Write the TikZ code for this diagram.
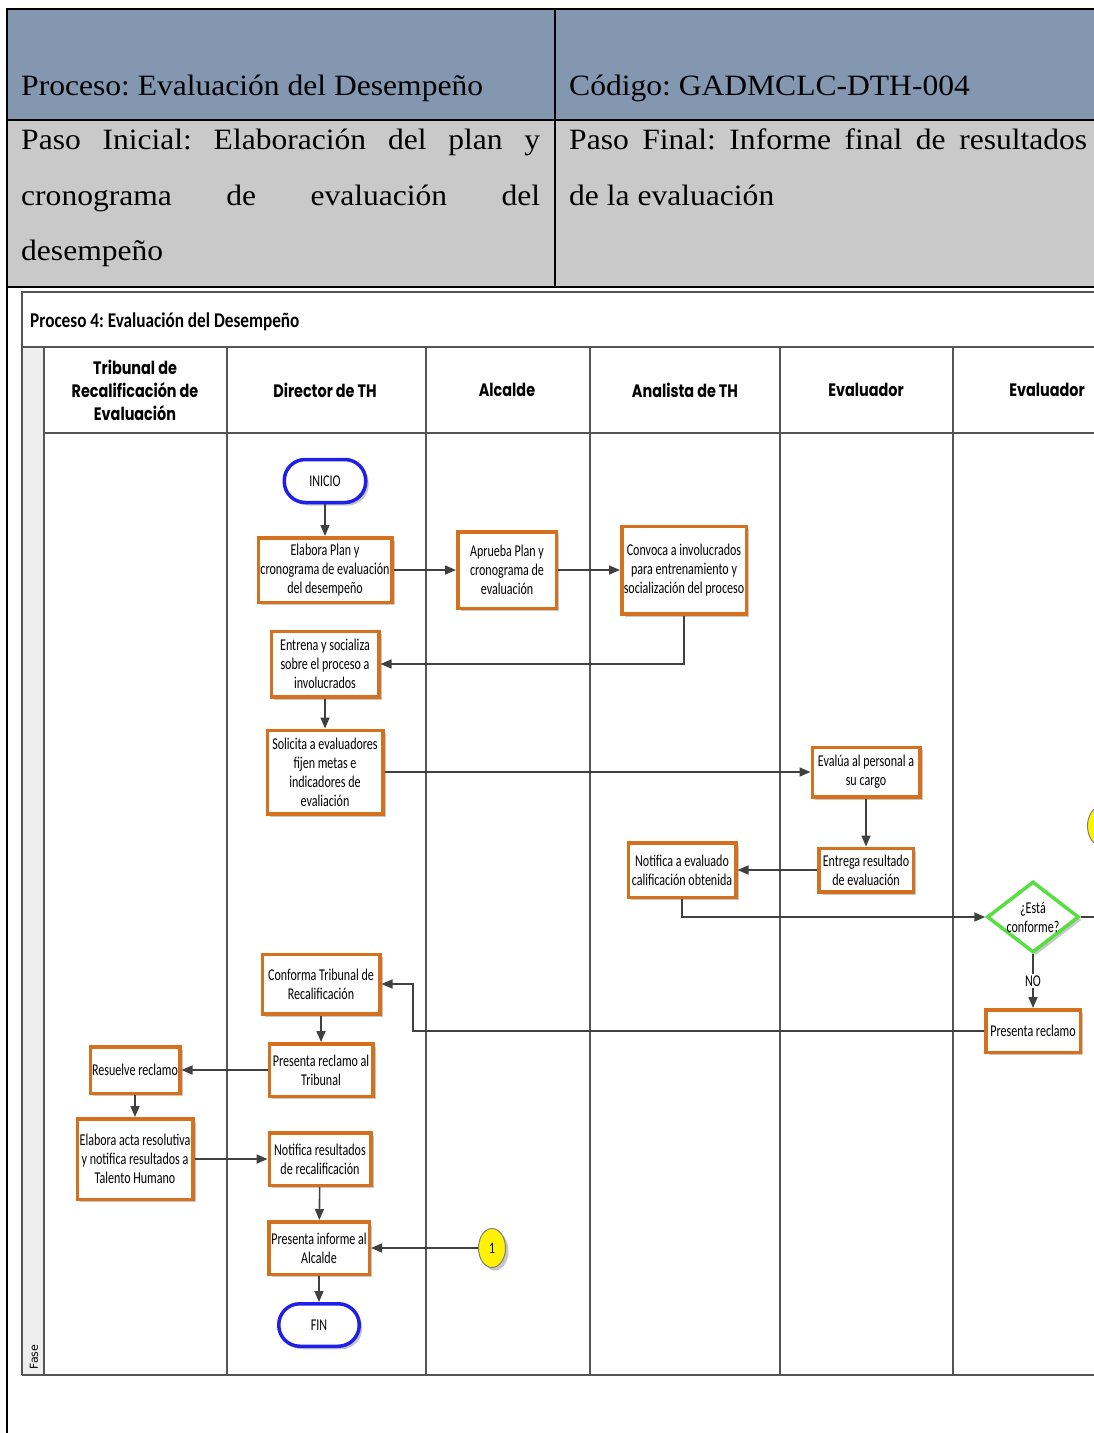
\documentclass[tikz,border=0pt]{standalone}
\usepackage{fontspec}
\usetikzlibrary{arrows.meta,shapes.geometric,shadows}
\setmainfont{Liberation Serif}
\newfontfamily\hdrfont[FakeStretch=1.07]{Liberation Serif}
\newfontfamily\boxfont[FakeStretch=0.73]{Carlito}
\newfontfamily\titlefont[FakeStretch=0.82]{Carlito}
\newfontfamily\lanefont[FakeStretch=0.8]{Poppins}
\newfontfamily\fasefont{DejaVu Sans}
\frenchspacing

\definecolor{hdrblue}{HTML}{8497B0}
\definecolor{hdrgray}{HTML}{C9C9C9}
\definecolor{boxorange}{HTML}{D4701E}
\definecolor{termblue}{HTML}{2020E8}
\definecolor{decgreen}{HTML}{55E040}
\definecolor{wire}{HTML}{404040}
\definecolor{laneline}{HTML}{555555}
\definecolor{stripgray}{HTML}{EEEEEE}

\tikzset{
  hdr/.style={anchor=base west, inner sep=0pt, font=\hdrfont\fontsize{29.5}{33}\selectfont},
  lanehead/.style={align=center, font=\lanefont\bfseries\fontsize{18}{23}\selectfont},
  frame/.style={draw=laneline, line width=1.3pt},
  shade/.style={drop shadow={shadow xshift=3pt, shadow yshift=-3pt, opacity=0.22, fill=black}},
  proc/.style={draw=boxorange, line width=3.5pt, fill=white, align=center, inner sep=1pt,
    font=\boxfont\fontsize{16.5}{19}\selectfont, shade},
  term/.style={draw=termblue, line width=3.5pt, fill=white, rounded corners=21pt,
    minimum width=81.5pt, minimum height=43pt, inner sep=1pt,
    font=\boxfont\fontsize{16.5}{19}\selectfont, shade},
  dec/.style={diamond, draw=decgreen, line width=3.5pt, fill=white, inner sep=0pt,
    minimum width=92pt, minimum height=71pt, shade},
  conn/.style={ellipse, draw=gray, line width=1pt, fill=yellow, inner sep=0pt,
    minimum width=27pt, minimum height=39pt, font=\boxfont\fontsize{16}{18}\selectfont, shade},
  arr/.style={draw=wire, line width=1.6pt, -{Triangle[length=11pt,width=9pt]}},
  plain/.style={draw=wire, line width=1.6pt}
}

\begin{document}
\begin{tikzpicture}[x=1pt,y=-1pt]
\useasboundingbox (0,0) rectangle (1094,1433);
\clip (0,0) rectangle (1094,1433);

% ---- heading table ----
\fill[hdrblue] (7,9) rectangle (1110,120);
\fill[hdrgray] (7,120) rectangle (1110,287);
\draw[line width=2.5pt] (1110,9) -- (7,9) -- (7,1440);
\draw[line width=2.5pt] (7,120) -- (1110,120);
\draw[line width=2.5pt] (7,287) -- (1110,287);
\draw[line width=2.5pt] (555,9) -- (555,287);

\node[hdr] (hproc) at (21,95) {Proceso: Evaluación del Desempeño};
\node[hdr] (hcode) at (569,95) {Código: GADMCLC-DTH-004};
\node[hdr] (hini1) at (21,149) {\makebox[519pt][s]{Paso Inicial: Elaboración del plan y}};
\node[hdr] (hini2) at (21,205) {\makebox[519pt][s]{cronograma de evaluación del}};
\node[hdr] (hini3) at (21,260) {desempeño};
\node[hdr] (hfin1) at (569,149) {\makebox[518pt][s]{Paso Final: Informe final de resultados}};
\node[hdr] (hfin2) at (569,205) {de la evaluación};

% ---- pool and swimlanes ----
\fill[stripgray] (22,347) rectangle (44,1375);
\draw[frame] (22,1375) -- (22,292) -- (1110,292);
\draw[frame] (22,347) -- (1110,347);
\draw[frame] (44,347) -- (44,1375);
\draw[frame] (44,433) -- (1110,433);
\foreach \lx in {227,426,590,780,953}
  \draw[frame] (\lx,347) -- (\lx,1375);
\draw[draw=laneline, line width=2pt] (22,1375) -- (1110,1375);

\node[anchor=base west, inner sep=0pt, font=\titlefont\bfseries\fontsize{21}{24}\selectfont]
  (title) at (30,327) {Proceso 4: Evaluación del Desempeño};

\node[lanehead] (l1) at (135,390) {Tribunal de\\Recalificación de\\Evaluación};
\node[lanehead] (l2) at (325,390) {Director de TH};
\node[lanehead] (l3) at (507,390) {Alcalde};
\node[lanehead] (l4) at (685,390) {Analista de TH};
\node[lanehead] (l5) at (866,390) {Evaluador};
\node[lanehead] (l6) at (1047,390) {Evaluador};

\node[rotate=90, inner sep=0pt, font=\fasefont\fontsize{11}{12}\selectfont] (fase) at (34,1357) {Fase};

% ---- activities ----
\node[term] (ini) at (325,481) {INICIO};
\node[proc, minimum width=133.5pt, minimum height=64.5pt] (elab) at (325,570)
  {Elabora Plan y\\cronograma de evaluación\\del desempeño};
\node[proc, minimum width=98.5pt, minimum height=76.5pt] (apr) at (507,570)
  {Aprueba Plan y\\cronograma de\\evaluación};
\node[proc, minimum width=124.5pt, minimum height=87.5pt] (conv) at (684,570)
  {Convoca a involucrados\\para entrenamiento y\\socialización del proceso};
\node[proc, minimum width=107.5pt, minimum height=65.5pt] (entr) at (325,664)
  {Entrena y socializa\\sobre el proceso a\\involucrados};
\node[proc, minimum width=115.5pt, minimum height=83.5pt] (soli) at (325,772)
  {Solicita a evaluadores\\fijen metas e\\indicadores de\\evaliación};
\node[proc, minimum width=107.5pt, minimum height=49.5pt] (eval) at (866,772)
  {Evalúa al personal a\\su cargo};
\node[proc, minimum width=94.5pt, minimum height=43.5pt] (entg) at (866,870)
  {Entrega resultado\\de evaluación};
\node[proc, minimum width=107.5pt, minimum height=54.5pt] (notf) at (682,870)
  {Notifica a evaluado\\calificación obtenida};
\node[dec] (conf) at (1033,917) {};
\node[align=center, inner sep=0pt, font=\boxfont\fontsize{16.5}{19}\selectfont] (conftxt) at (1033,917)
  {¿Está\\conforme?};
\node[proc, minimum width=94.5pt, minimum height=42.5pt] (recl) at (1033,1031)
  {Presenta reclamo};
\node[proc, minimum width=117.5pt, minimum height=59.5pt] (trib) at (321,984)
  {Conforma Tribunal de\\Recalificación};
\node[proc, minimum width=103.5pt, minimum height=52.5pt] (prtb) at (321,1070)
  {Presenta reclamo al\\Tribunal};
\node[proc, minimum width=89.5pt, minimum height=46.5pt] (resu) at (135,1070)
  {Resuelve reclamo};
\node[proc, minimum width=115.5pt, minimum height=80.5pt] (acta) at (135,1159)
  {Elabora acta resolutiva\\y notifica resultados a\\Talento Humano};
\node[proc, minimum width=101.5pt, minimum height=52.5pt] (notr) at (320,1159)
  {Notifica resultados\\de recalificación};
\node[proc, minimum width=100.5pt, minimum height=52.5pt] (info) at (319,1248)
  {Presenta informe al\\Alcalde};
\node[term, minimum width=80.5pt, minimum height=42.5pt] (fin) at (319,1325) {FIN};
\node[conn] (ca) at (492,1248) {1};
% off-page connector continuing past the right margin
\node[conn] (cb) at (1101,826) {};

% ---- connectors ----
\coordinate (turn) at (413,1031);
\coordinate (edge) at (1100,917);

\draw[arr] (ini) -- (elab);
\draw[arr] (elab) -- (apr);
\draw[arr] (apr) -- (conv);
\draw[arr] (conv.south) |- (entr.east);
\draw[arr] (entr) -- (soli);
\draw[arr] (soli.east) -- (eval.west);
\draw[arr] (eval) -- (entg);
\draw[arr] (entg) -- (notf);
\draw[arr] (notf.south) |- (conf.west);
\draw[plain] (conf.east) -- (edge);
\draw[arr] (conf.south) -- node[fill=white, inner sep=1.5pt, font=\boxfont\fontsize{16.5}{19}\selectfont] (nolbl) {NO} (recl.north);
\draw[arr] (recl.west) -- (turn) |- (trib.east);
\draw[arr] (trib) -- (prtb);
\draw[arr] (prtb) -- (resu);
\draw[arr] (resu) -- (acta);
\draw[arr] (acta) -- (notr);
\draw[arr] (notr) -- (info);
\draw[arr] (ca) -- (info);
\draw[arr] (info) -- (fin);
\end{tikzpicture}
\end{document}
